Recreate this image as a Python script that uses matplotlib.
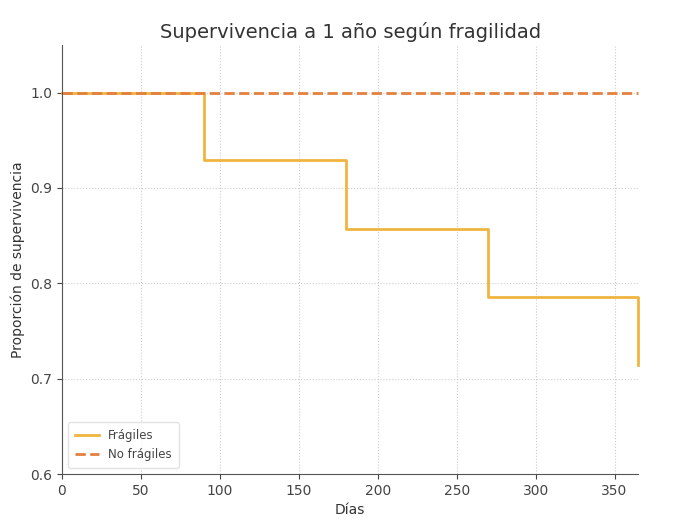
import matplotlib
matplotlib.use("Agg")
import matplotlib.pyplot as plt

dias_fragiles = [0, 90, 90, 180, 180, 270, 270, 365, 365]
surv_fragiles = [1.0, 1.0, 0.929, 0.929, 0.857, 0.857, 0.786, 0.786, 0.714]
dias_no_fragiles = [0, 365]
surv_no_fragiles = [1.0, 1.0]

plt.rcParams['font.family'] = ['DejaVu Sans']
fig = plt.figure(figsize=(6.84, 5.28), dpi=100)
ax = fig.add_axes([0.0906, 0.102, 0.8425, 0.813])

ax.plot(dias_fragiles, surv_fragiles, color='#F0B440', lw=2, label='Frágiles', clip_on=False)
ax.plot(dias_no_fragiles, surv_no_fragiles, color='#E3803F', lw=2, ls='--', label='No frágiles', clip_on=False)

ax.set_xlim(0, 365)
ax.set_ylim(0.6, 1.05)
ax.set_xticks([0, 50, 100, 150, 200, 250, 300, 350])
ax.set_yticks([0.6, 0.7, 0.8, 0.9, 1.0])
ax.grid(True, ls=':', color='#cccccc', lw=0.8)
for s in ['top', 'right']:
    ax.spines[s].set_visible(False)
for s in ['left', 'bottom']:
    ax.spines[s].set_color('#555555')
ax.tick_params(colors='#444444', labelsize=10)
ax.set_title('Supervivencia a 1 año según fragilidad', fontsize=14, color='#333333', pad=5)
ax.set_xlabel('Días', fontsize=10, color='#333333')
ax.set_ylabel('Proporción de supervivencia', fontsize=10, color='#333333')
leg = ax.legend(loc='lower left', fontsize=8.5, frameon=True, borderpad=0.6)
for t in leg.get_texts():
    t.set_color('#444444')
leg.get_frame().set_edgecolor('#dddddd')

fig.savefig('out.png', dpi=100, facecolor='white')
